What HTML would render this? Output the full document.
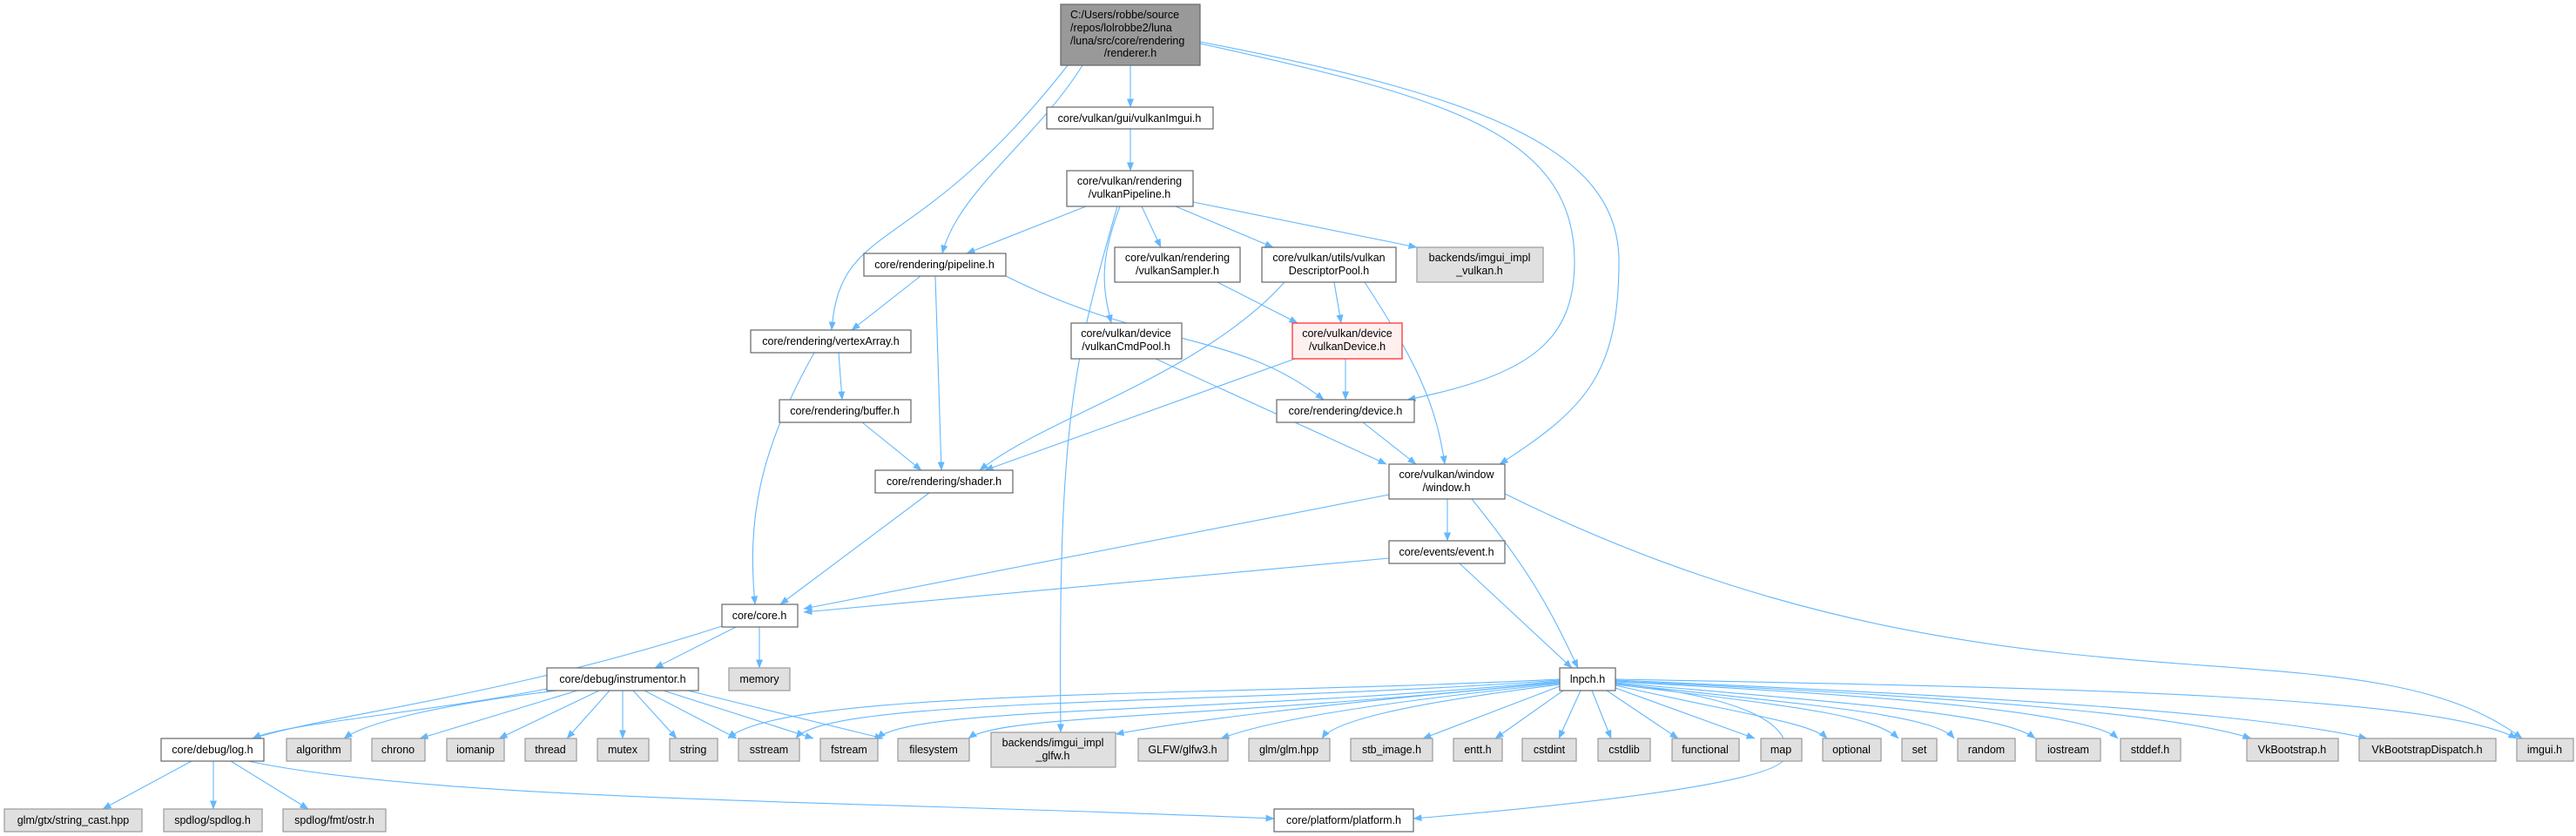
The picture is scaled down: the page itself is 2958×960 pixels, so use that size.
<!DOCTYPE html>
<html><head><meta charset="utf-8"><style>
html,body{margin:0;padding:0;background:#fff;}
svg{display:block;}
text{font-family:"Liberation Sans",Arial,sans-serif;font-size:12.5px;fill:#000;}
.n{fill:#fff;stroke:#666;stroke-width:1.2;}
.g{fill:#e0e0e0;stroke:#999;stroke-width:1.2;}
.e{fill:none;stroke:#63b8ff;stroke-width:1.1;}
</style></head><body>
<svg width="2958" height="960" viewBox="0 0 2958 960" xmlns="http://www.w3.org/2000/svg">
<defs><marker id="a" markerWidth="10" markerHeight="8" refX="9.5" refY="4" orient="auto" markerUnits="userSpaceOnUse"><path d="M0,0 L10,4 L0,8 z" fill="#63b8ff"/></marker></defs>
<g class="e" marker-end="url(#a)">
<path d="M1298,75 L1298,123"/>
<path d="M1243,75 C1190,160 1100,220 1082,291"/>
<path d="M1226,75 C1050,300 965,250 955,379"/>
<path d="M1378,50 C1650,110 1808,150 1808,300 C1808,390 1760,430 1616,459"/>
<path d="M1378,48 C1700,110 1859,170 1859,300 C1859,430 1820,470 1722,533"/>
<path d="M1298,148 L1298,196"/>
<path d="M1247,237 L1110,291"/>
<path d="M1311,237 L1333,284"/>
<path d="M1350,237 L1462,284"/>
<path d="M1370,232 L1627,284"/>
<path d="M1286,237 C1262,300 1266,330 1276,371"/>
<path d="M1283,237 C1230,420 1215,500 1218,841"/>
<path d="M1057,317 L978,379"/>
<path d="M1074,317 L1081,540"/>
<path d="M1155,317 C1320,400 1420,380 1520,459"/>
<path d="M1398,324 L1490,371"/>
<path d="M1532,324 L1540,371"/>
<path d="M1475,324 C1380,430 1200,480 1125,540"/>
<path d="M1567,324 C1630,420 1650,470 1659,533"/>
<path d="M1545,412 L1545,459"/>
<path d="M1487,412 L1131,540"/>
<path d="M1327,412 L1592,533"/>
<path d="M1565,485 L1626,533"/>
<path d="M963,405 L967,459"/>
<path d="M990,485 L1058,540"/>
<path d="M935,405 C870,520 858,600 867,694"/>
<path d="M1067,566 L896,694"/>
<path d="M1595,568 L923,699"/>
<path d="M1662,573 L1662,621"/>
<path d="M1690,573 C1760,660 1780,700 1812,767"/>
<path d="M1728,567 C2300,850 2700,700 2896,848"/>
<path d="M1595,641 L923,703"/>
<path d="M1676,647 L1805,767"/>
<path d="M829,719 C580,800 380,820 290,848"/>
<path d="M845,720 L752,767"/>
<path d="M872,720 L872,767"/>
<path d="M628,791 C480,820 330,830 290,848"/>
<path d="M640,793 C500,810 420,830 395,848"/>
<path d="M663,793 L482,848"/>
<path d="M688,793 L573,848"/>
<path d="M700,793 L651,848"/>
<path d="M715,793 L715,848"/>
<path d="M727,793 L777,848"/>
<path d="M740,793 L846,848"/>
<path d="M762,793 L934,848"/>
<path d="M790,793 L1014,848"/>
<path d="M220,874 L118,929"/>
<path d="M245,874 L245,929"/>
<path d="M265,874 L354,929"/>
<path d="M285,874 C500,920 1000,920 1463,940"/>
<path d="M1791,780 C1400,800 900,790 836,848"/>
<path d="M1791,781 C1400,810 950,800 914,848"/>
<path d="M1791,782 C1400,820 1050,810 1007,848"/>
<path d="M1791,783 C1400,825 1150,820 1112,848"/>
<path d="M1791,784 C1500,810 1350,830 1281,843"/>
<path d="M1791,785 C1550,810 1450,830 1402,848"/>
<path d="M1791,786 C1600,810 1530,830 1518,848"/>
<path d="M1791,788 L1634,848"/>
<path d="M1795,793 L1717,848"/>
<path d="M1815,793 L1790,848"/>
<path d="M1828,793 L1850,848"/>
<path d="M1845,793 L1927,848"/>
<path d="M1855,790 L2015,848"/>
<path d="M1855,787 C2000,820 2080,830 2098,848"/>
<path d="M1855,786 C2050,810 2150,820 2180,848"/>
<path d="M1855,785 C2080,810 2220,820 2244,848"/>
<path d="M1855,784 C2150,810 2300,820 2337,848"/>
<path d="M1855,783 C2200,800 2400,820 2432,848"/>
<path d="M1855,782 C2250,800 2500,820 2585,848"/>
<path d="M1855,781 C2300,800 2600,820 2718,848"/>
<path d="M1855,780 C2400,790 2800,800 2890,848"/>
<path d="M1855,785 C2000,800 2060,830 2050,870 C2040,900 1800,925 1623,940"/>
</g>
<g>
<rect x="1218" y="5" width="160" height="70" fill="#999" stroke="#666" stroke-width="1.2"/>
<text x="1229" y="21">C:/Users/robbe/source</text>
<text x="1229" y="36">/repos/lolrobbe2/luna</text>
<text x="1229" y="51">/luna/src/core/rendering</text>
<text x="1298" y="65" text-anchor="middle">/renderer.h</text>
</g>
<g text-anchor="middle">
<rect class="n" x="1202" y="123" width="191" height="25"/><text x="1297" y="140">core/vulkan/gui/vulkanImgui.h</text>
<rect class="n" x="1225" y="196" width="145" height="41"/><text x="1297" y="212">core/vulkan/rendering</text><text x="1297" y="227">/vulkanPipeline.h</text>
<rect class="n" x="992" y="291" width="163" height="26"/><text x="1073" y="308">core/rendering/pipeline.h</text>
<rect class="n" x="1280" y="284" width="144" height="40"/><text x="1352" y="300">core/vulkan/rendering</text><text x="1352" y="315">/vulkanSampler.h</text>
<rect class="n" x="1449" y="284" width="154" height="40"/><text x="1526" y="300">core/vulkan/utils/vulkan</text><text x="1526" y="315">DescriptorPool.h</text>
<rect class="g" x="1627" y="284" width="145" height="40"/><text x="1699" y="300">backends/imgui_impl</text><text x="1699" y="315">_vulkan.h</text>
<rect class="n" x="862" y="379" width="184" height="26"/><text x="954" y="396">core/rendering/vertexArray.h</text>
<rect class="n" x="1230" y="371" width="127" height="41"/><text x="1293" y="387">core/vulkan/device</text><text x="1293" y="402">/vulkanCmdPool.h</text>
<rect x="1484" y="371" width="126" height="41" fill="#fff0f0" stroke="#ff4040" stroke-width="1.4"/><text x="1547" y="387">core/vulkan/device</text><text x="1547" y="402">/vulkanDevice.h</text>
<rect class="n" x="895" y="459" width="151" height="26"/><text x="970" y="476">core/rendering/buffer.h</text>
<rect class="n" x="1466" y="459" width="158" height="26"/><text x="1545" y="476">core/rendering/device.h</text>
<rect class="n" x="1005" y="540" width="158" height="26"/><text x="1084" y="557">core/rendering/shader.h</text>
<rect class="n" x="1595" y="533" width="133" height="40"/><text x="1661" y="549">core/vulkan/window</text><text x="1661" y="564">/window.h</text>
<rect class="n" x="1595" y="621" width="133" height="26"/><text x="1661" y="638">core/events/event.h</text>
<rect class="n" x="829" y="694" width="87" height="26"/><text x="872" y="711">core/core.h</text>
<rect class="n" x="628" y="767" width="174" height="26"/><text x="715" y="784">core/debug/instrumentor.h</text>
<rect class="g" x="837" y="767" width="70" height="26"/><text x="872" y="784">memory</text>
<rect class="n" x="1791" y="767" width="64" height="26"/><text x="1823" y="784">lnpch.h</text>
<rect class="n" x="185" y="848" width="118" height="26"/><text x="244" y="865">core/debug/log.h</text>
<rect class="g" x="329" y="848" width="74" height="26"/><text x="366" y="865">algorithm</text>
<rect class="g" x="427" y="848" width="61" height="26"/><text x="457" y="865">chrono</text>
<rect class="g" x="513" y="848" width="66" height="26"/><text x="546" y="865">iomanip</text>
<rect class="g" x="603" y="848" width="59" height="26"/><text x="632" y="865">thread</text>
<rect class="g" x="686" y="848" width="59" height="26"/><text x="715" y="865">mutex</text>
<rect class="g" x="769" y="848" width="55" height="26"/><text x="796" y="865">string</text>
<rect class="g" x="848" y="848" width="70" height="26"/><text x="883" y="865">sstream</text>
<rect class="g" x="942" y="848" width="66" height="26"/><text x="975" y="865">fstream</text>
<rect class="g" x="1031" y="848" width="82" height="26"/><text x="1072" y="865">filesystem</text>
<rect class="g" x="1138" y="841" width="143" height="40"/><text x="1209" y="857">backends/imgui_impl</text><text x="1209" y="872">_glfw.h</text>
<rect class="g" x="1307" y="848" width="103" height="26"/><text x="1358" y="865">GLFW/glfw3.h</text>
<rect class="g" x="1434" y="848" width="93" height="26"/><text x="1480" y="865">glm/glm.hpp</text>
<rect class="g" x="1551" y="848" width="94" height="26"/><text x="1598" y="865">stb_image.h</text>
<rect class="g" x="1669" y="848" width="56" height="26"/><text x="1697" y="865">entt.h</text>
<rect class="g" x="1748" y="848" width="62" height="26"/><text x="1779" y="865">cstdint</text>
<rect class="g" x="1835" y="848" width="60" height="26"/><text x="1865" y="865">cstdlib</text>
<rect class="g" x="1920" y="848" width="77" height="26"/><text x="1958" y="865">functional</text>
<rect class="g" x="2022" y="848" width="47" height="26"/><text x="2045" y="865">map</text>
<rect class="g" x="2093" y="848" width="67" height="26"/><text x="2126" y="865">optional</text>
<rect class="g" x="2184" y="848" width="40" height="26"/><text x="2204" y="865">set</text>
<rect class="g" x="2248" y="848" width="66" height="26"/><text x="2281" y="865">random</text>
<rect class="g" x="2338" y="848" width="74" height="26"/><text x="2375" y="865">iostream</text>
<rect class="g" x="2435" y="848" width="69" height="26"/><text x="2469" y="865">stddef.h</text>
<rect class="g" x="2580" y="848" width="105" height="26"/><text x="2632" y="865">VkBootstrap.h</text>
<rect class="g" x="2709" y="848" width="157" height="26"/><text x="2787" y="865">VkBootstrapDispatch.h</text>
<rect class="g" x="2890" y="848" width="65" height="26"/><text x="2922" y="865">imgui.h</text>
<rect class="g" x="5" y="929" width="158" height="26"/><text x="84" y="946">glm/gtx/string_cast.hpp</text>
<rect class="g" x="188" y="929" width="113" height="26"/><text x="244" y="946">spdlog/spdlog.h</text>
<rect class="g" x="325" y="929" width="118" height="26"/><text x="384" y="946">spdlog/fmt/ostr.h</text>
<rect class="n" x="1463" y="929" width="160" height="26"/><text x="1543" y="946">core/platform/platform.h</text>
</g>
</svg>
</body></html>
